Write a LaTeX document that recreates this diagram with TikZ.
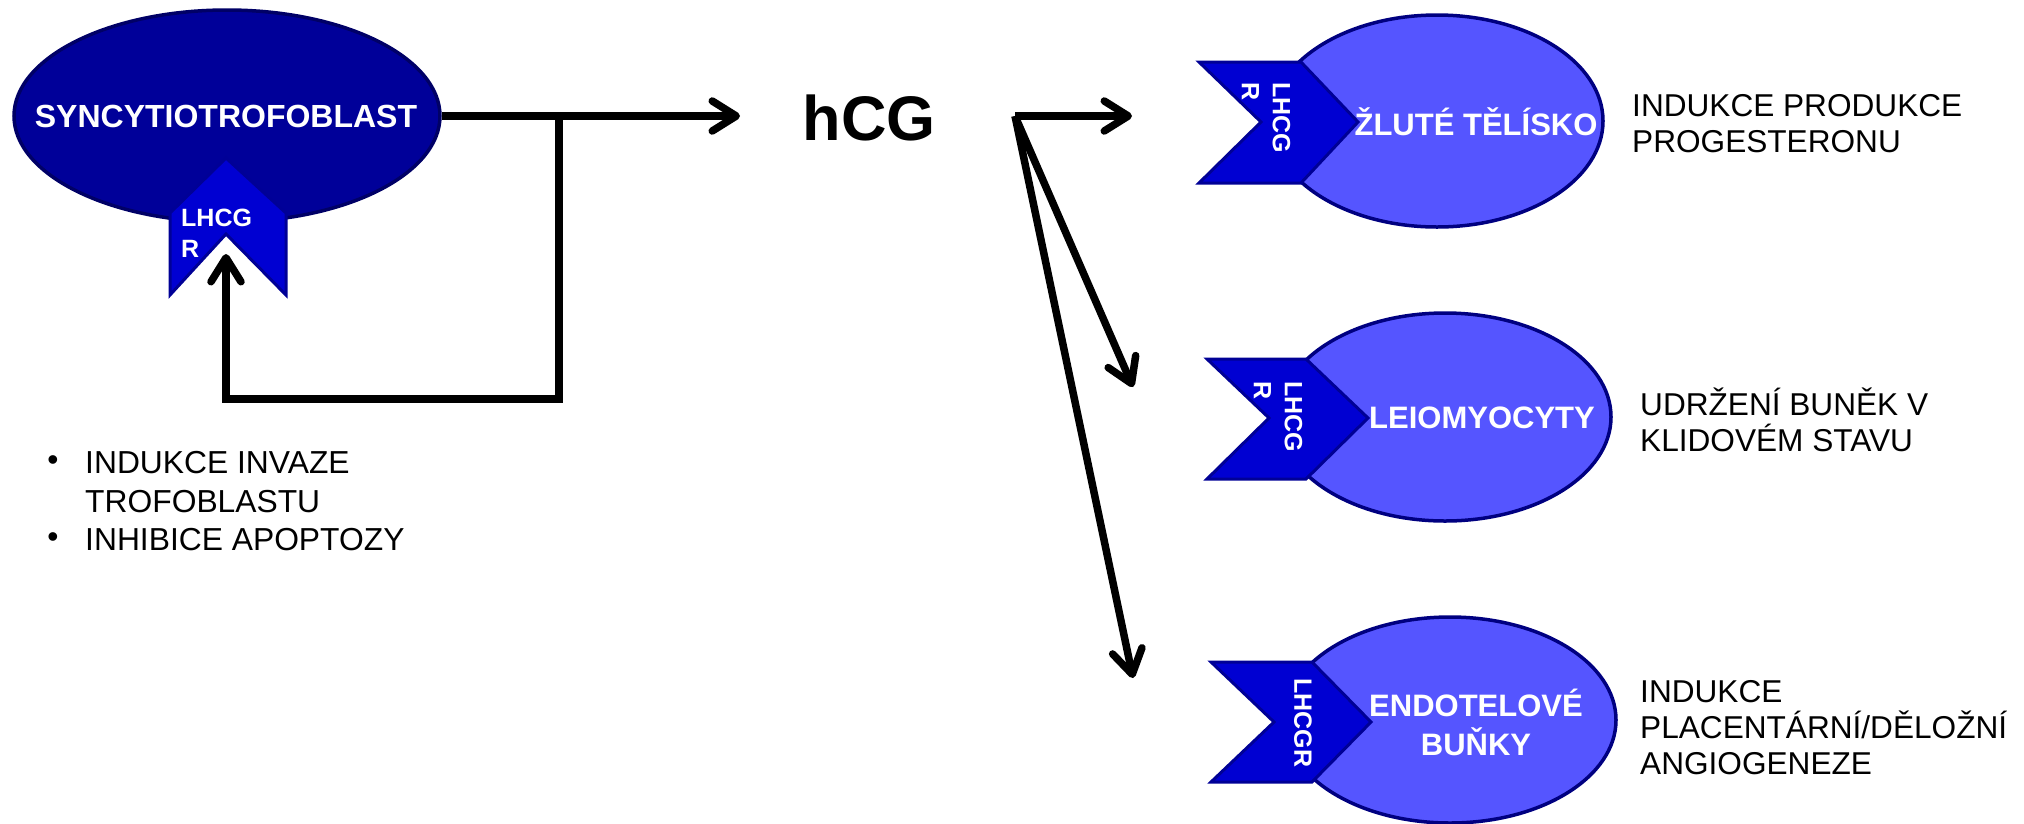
\documentclass[tikz,border=0pt]{standalone}
\usepackage{fontspec}
\setmainfont{Liberation Sans}
\usetikzlibrary{arrows.meta,shapes.geometric}
\definecolor{synfill}{RGB}{0,0,153}
\definecolor{synborder}{RGB}{0,0,102}
\definecolor{recfill}{RGB}{0,0,210}
\definecolor{recborder}{RGB}{0,0,150}
\definecolor{cellfill}{RGB}{85,85,255}
\definecolor{cellborder}{RGB}{0,0,128}
\begin{document}
\begin{tikzpicture}[x=1pt,y=-1pt,
  conn/.style={line width=7.5pt, -{Straight Barb[length=24pt,width=30pt,round]}},
  recep/.style={fill=recfill, draw=recborder, line width=3pt, line join=miter},
  cell/.style={ellipse, fill=cellfill, draw=cellborder, line width=3.5pt, inner sep=0pt},
  celltext/.style={text=white, font=\bfseries\fontsize{31}{39}\selectfont, align=center, inner sep=0pt},
  rectext/.style={text=white, font=\bfseries\fontsize{25}{31}\selectfont, align=left, inner sep=0pt},
  desc/.style={font=\fontsize{31.6}{36}\selectfont, align=left, anchor=west, inner sep=0pt},
  blt/.style={font=\fontsize{31.8}{38.5}\selectfont, align=left, inner sep=0pt}
]
\useasboundingbox (0,0) rectangle (2024,823);

% syncytiotrofoblast
\node[ellipse, fill=synfill, draw=synborder, line width=3.5pt, minimum width=426pt, minimum height=212pt, inner sep=0pt] (syn) at (227,116) {};
\node[text=white, font=\bfseries\fontsize{32}{38}\selectfont, inner sep=0pt] (syntext) at (226,116) {SYNCYTIOTROFOBLAST};
\draw[recep] (226,158) -- (286,213) -- (286,295) -- (226,234) -- (170,295) -- (170,213) -- cycle;
\node[rectext, anchor=west] (synrectext) at (181,233) {LHCG\\R};
\coordinate (synrec) at (226,254);

% hCG
\node[font=\bfseries\fontsize{63}{72}\selectfont, inner sep=0pt] (hcg) at (869,118) {hCG};
\coordinate (hcgtip) at (740,116);
\coordinate (split) at (559,116);
\coordinate (hsrc) at (1015,116);
\coordinate (t1) at (1132,116);
\coordinate (t2) at (1133,387);
\coordinate (t3) at (1133,678);

% cell 1
\node[cell, minimum width=332pt, minimum height=212pt] (cell1) at (1437,121) {};
\draw[recep] (1199,62) -- (1301,62) -- (1358,122) -- (1301,183) -- (1199,183) -- (1261,122) -- cycle;
\node[rectext, rotate=-90] (rec1) at (1266,118) {LHCG\\R};
\node[celltext] (txt1) at (1476,122) {ŽLUTÉ TĚLÍSKO};
\node[desc] (desc1) at (1632,124) {INDUKCE PRODUKCE\\PROGESTERONU};

% cell 2
\node[cell, minimum width=332pt, minimum height=208pt] (cell2) at (1445,417) {};
\draw[recep] (1207,359) -- (1306,359) -- (1368,418) -- (1306,479) -- (1207,479) -- (1269,418) -- cycle;
\node[rectext, rotate=-90] (rec2) at (1278,417) {LHCG\\R};
\node[celltext] (txt2) at (1482,418) {LEIOMYOCYTY};
\node[desc] (desc2) at (1640,420) {UDRŽENÍ BUNĚK V\\KLIDOVÉM STAVU};

% cell 3
\node[cell, minimum width=332pt, minimum height=206pt] (cell3) at (1450,720) {};
\draw[recep] (1211,662) -- (1312,662) -- (1371,722) -- (1312,782) -- (1211,782) -- (1274,722) -- cycle;
\node[rectext, rotate=-90] (rec3) at (1303,723) {LHCGR};
\node[celltext] (txt3) at (1476,722) {ENDOTELOVÉ\\BUŇKY};
\node[desc] (desc3) at (1640,728) {INDUKCE\\PLACENTÁRNÍ/DĚLOŽNÍ\\ANGIOGENEZE};

% bullets
\node[blt] (b1) at (53,463) {•};
\node[blt, anchor=west] (bt1) at (85,482) {INDUKCE INVAZE\\TROFOBLASTU};
\node[blt] (b2) at (53,540) {•};
\node[blt, anchor=west] (bt2) at (85,540) {INHIBICE APOPTOZY};

% connectors
\draw[conn] (syn.east) -- (hcgtip);
\draw[conn] (split) -- ++(0,283) -| (synrec);
\draw[conn] (hsrc) -- (t1);
\draw[conn] (hsrc) -- (t2);
\draw[conn] (hsrc) -- (t3);
\end{tikzpicture}
\end{document}
